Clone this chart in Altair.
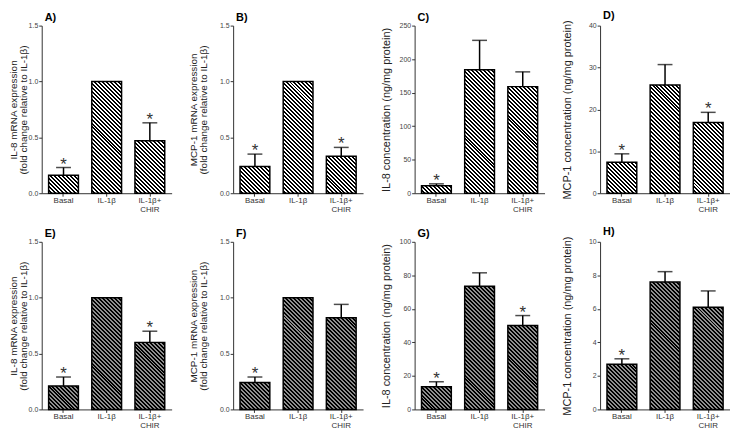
import altair as alt
import pandas as pd

FONT = "Liberation Sans"

categories = ["Basal", "IL-1β", "IL-1β+|CHIR"]

mrna_il8_title = ["IL-8 mRNA expression", "(fold change relative to IL-1β)"]
mrna_mcp_title = ["MCP-1 mRNA expression", "(fold change relative to IL-1β)"]
conc_il8_title = "IL-8 concentration (ng/mg protein)"
conc_mcp_title = "MCP-1 concentration (ng/mg protein)"

# panel values: mean, SEM (upper error only), significance star
a_mean = [0.16, 1.00, 0.47]
a_sem = [0.07, 0.0, 0.16]
a_star = [True, False, True]

b_mean = [0.24, 1.00, 0.33]
b_sem = [0.11, 0.0, 0.08]
b_star = [True, False, True]

c_mean = [11, 184, 159]
c_sem = [3, 44, 22]
c_star = [True, False, False]

d_mean = [7.4, 25.8, 16.9]
d_sem = [2.0, 4.9, 2.4]
d_star = [True, False, True]

e_mean = [0.21, 1.00, 0.60]
e_sem = [0.08, 0.0, 0.10]
e_star = [True, False, True]

f_mean = [0.24, 1.00, 0.82]
f_sem = [0.05, 0.0, 0.12]
f_star = [True, False, False]

g_mean = [13.5, 73.5, 50.0]
g_sem = [3.0, 8.0, 6.0]
g_star = [True, False, True]

h_mean = [2.7, 7.6, 6.1]
h_sem = [0.32, 0.62, 0.97]
h_star = [True, False, False]

W, H = 131, 169
PI, PO = 0.31, 0.16
STEP = W / (3 - PI + 2 * PO)
BW = STEP * (1 - PI)


def hatch(w, h, bg, fg, period=4.0, lw=2.0):
    """Diagonal stripe fill built as a hard-stop linear gradient."""
    h = max(h, 1.0)
    total = w + h
    a = w / total
    b = -h / total
    n2 = a * a + b * b
    dx, dy = a / n2, b / n2
    stops = [{"offset": 0, "color": bg}]
    u = period * 0.5
    while u < total:
        o1 = u / total
        o2 = min((u + lw) / total, 1.0)
        stops += [
            {"offset": o1, "color": bg},
            {"offset": o1, "color": fg},
            {"offset": o2, "color": fg},
            {"offset": o2, "color": bg},
        ]
        u += period
    stops.append({"offset": 1, "color": bg})
    return {"gradient": "linear", "x1": 0, "y1": 1, "x2": dx, "y2": 1 + dy, "stops": stops}


def panel(letter, title, ymax, tstep, fmt, mean, sem, star, bg, tsize, tpad):
    df = pd.DataFrame({"cat": categories, "mean": mean, "sem": sem, "star": star})
    df["upper"] = df["mean"] + df["sem"]
    nt = int(round(ymax / tstep))
    ticks = [tstep * i for i in range(nt + 1)]
    xenc = alt.X(
        "cat:N",
        sort=categories,
        scale=alt.Scale(paddingInner=PI, paddingOuter=PO),
        axis=alt.Axis(
            title=None,
            labelAngle=0,
            labelExpr="split(datum.label, '|')",
            labelFontSize=8,
            labelColor="#333",
            labelPadding=0,
            labelLineHeight=9,
            tickSize=3,
            domainColor="#333",
            tickColor="#333",
        ),
    )
    yscale = alt.Scale(domain=[0, ymax], nice=False, zero=True)
    yaxis = alt.Axis(
        values=ticks,
        format=fmt,
        title=title,
        titleFontSize=tsize,
        titleLineHeight=10,
        titleFontWeight="normal",
        titleColor="#222",
        titlePadding=tpad,
        labelFontSize=7,
        labelColor="#444",
        labelPadding=1,
        tickSize=3,
        grid=False,
        domainColor="#333",
        tickColor="#333",
    )
    base = alt.Chart(df)
    layers = []
    for i, c in enumerate(categories):
        hpx = mean[i] / ymax * H
        layers.append(
            base.transform_filter(alt.datum.cat == c)
            .mark_bar(fill=hatch(BW, hpx, bg, "#000000"), stroke="#000", strokeWidth=1.5)
            .encode(x=xenc, y=alt.Y("mean:Q", scale=yscale, axis=yaxis))
        )
    err = (
        base.transform_filter("datum.sem > 0")
        .mark_rule(color="#000", strokeWidth=1.5)
        .encode(x=xenc, y=alt.Y("mean:Q", scale=yscale, axis=yaxis), y2="upper:Q")
    )
    cap = (
        base.transform_filter("datum.sem > 0")
        .mark_tick(orient="horizontal", size=15, thickness=1.5, color="#000")
        .encode(x=xenc, y=alt.Y("upper:Q", scale=yscale, axis=yaxis))
    )
    stars = (
        base.transform_filter("datum.star")
        .mark_text(text="*", fontSize=17, baseline="alphabetic", dy=2, font=FONT, color="#333")
        .encode(x=xenc, y=alt.Y("upper:Q", scale=yscale, axis=yaxis))
    )
    return alt.layer(*layers, err, cap, stars).properties(
        width=W,
        height=H,
        title=alt.Title(
            letter,
            anchor="start",
            frame="group",
            fontSize=11,
            fontWeight="bold",
            font=FONT,
            color="#000",
            offset=-1,
            dx=3,
        ),
    )


WHITE = "#ffffff"
GRAY = "#8e8e8e"

pA = panel("A)", mrna_il8_title, 1.5, 0.5, ".1f", a_mean, a_sem, a_star, WHITE, 10, 0)
pB = panel("B)", mrna_mcp_title, 1.5, 0.5, ".1f", b_mean, b_sem, b_star, WHITE, 10, 11)
pC = panel("C)", conc_il8_title, 250, 50, "d", c_mean, c_sem, c_star, WHITE, 11, 8)
pD = panel("D)", conc_mcp_title, 40, 10, "d", d_mean, d_sem, d_star, WHITE, 11, 16)
pE = panel("E)", mrna_il8_title, 1.5, 0.5, ".1f", e_mean, e_sem, e_star, GRAY, 10, 0)
pF = panel("F)", mrna_mcp_title, 1.5, 0.5, ".1f", f_mean, f_sem, f_star, GRAY, 10, 11)
pG = panel("G)", conc_il8_title, 100, 20, "d", g_mean, g_sem, g_star, GRAY, 11, 8)
pH = panel("H)", conc_mcp_title, 10, 2, "d", h_mean, h_sem, h_star, GRAY, 11, 16)


def col(top, bot):
    return alt.vconcat(top, bot, spacing=49, bounds="flush")


chart = (
    alt.hconcat(col(pA, pE), col(pB, pF), col(pC, pG), col(pD, pH), spacing=17)
    .properties(padding=0)
    .configure(font=FONT)
    .configure_view(stroke=None)
)

chart.save("out.html", embed_options={"renderer": "svg", "actions": False})
